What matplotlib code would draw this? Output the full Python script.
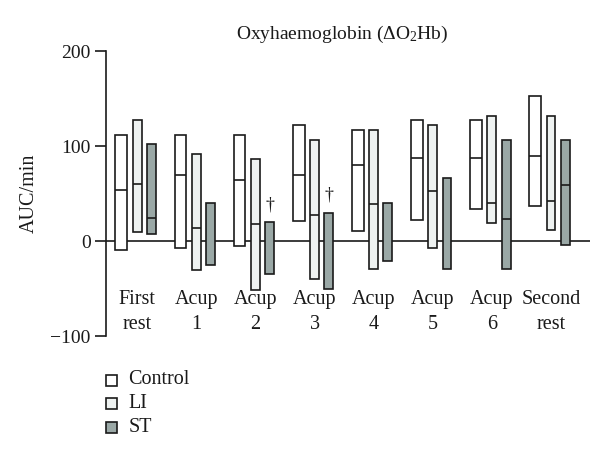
import matplotlib
matplotlib.use("Agg")
import matplotlib.pyplot as plt
from matplotlib.patches import Rectangle

plt.rcParams['font.family'] = ['Liberation Serif', 'DejaVu Serif']
plt.rcParams['mathtext.fontset'] = 'custom'
plt.rcParams['mathtext.rm'] = 'Liberation Serif'
plt.rcParams['mathtext.it'] = 'Liberation Serif:italic'

categories = ["First\nrest", "Acup\n1", "Acup\n2", "Acup\n3", "Acup\n4", "Acup\n5", "Acup\n6", "Second\nrest"]
series = ["Control", "LI", "ST"]

control_low = [-9, -7, -5, 21, 11, 22, 34, 37]
control_mid = [54, 70, 64, 70, 80, 87, 87, 90]
control_high = [112, 112, 112, 122, 117, 127, 127, 153]

li_low = [10, -30, -52, -40, -29, -7, 19, 12]
li_mid = [60, 14, 18, 27, 39, 53, 40, 42]
li_high = [127, 92, 86, 106, 117, 122, 132, 132]

st_low = [7, -25, -35, -50, -21, -29, -29, -4]
st_mid = [24, None, None, None, None, None, 23, 59]
st_high = [102, 40, 20, 30, 40, 66, 106, 106]

significant = [False, False, True, True, False, False, False, False]

colors = {"Control": "#ffffff", "LI": "#eef2f1", "ST": "#9aa8a6"}
offsets = {"Control": -0.27, "LI": 0.0, "ST": 0.24}
widths = {"Control": 0.2, "LI": 0.15, "ST": 0.15}
data = {
    "Control": (control_low, control_mid, control_high),
    "LI": (li_low, li_mid, li_high),
    "ST": (st_low, st_mid, st_high),
}

fig = plt.figure(figsize=(6.0, 4.62), dpi=100)
ax = fig.add_axes([0.1767, 0.2727, 0.8066, 0.6169])
ax.set_xlim(-0.53, 7.66)
ax.set_ylim(-100, 200)

ax.axhline(0, color="#1a1a1a", lw=1.2, zorder=1)

edge = "#1a1a1a"
for s in series:
    lo, mid, hi = data[s]
    for i in range(len(categories)):
        x0 = i + offsets[s] - widths[s] / 2
        ax.add_patch(Rectangle((x0, lo[i]), widths[s], hi[i] - lo[i],
                               facecolor=colors[s], edgecolor=edge, lw=1.2, zorder=2))
        if mid[i] is not None:
            ax.plot([x0, x0 + widths[s]], [mid[i], mid[i]], color=edge, lw=1.2, zorder=3,
                    solid_capstyle='butt')

for i, sig in enumerate(significant):
    if sig:
        ax.text(i + offsets["ST"], st_high[i] + 9, "\u2020", ha="center", va="bottom",
                fontsize=13, color=edge)

for i, c in enumerate(categories):
    ax.text(i, -75, c, ha="center", va="center", fontsize=14.5, linespacing=1.45, color="#1a1a1a")

for sp in ["top", "right", "bottom"]:
    ax.spines[sp].set_visible(False)
ax.spines["left"].set_linewidth(1.2)
ax.spines["left"].set_color(edge)
ax.set_xticks([])
ax.set_yticks([-100, 0, 100, 200])
ax.set_yticklabels(["\u2212100", "0", "100", "200"])
ax.tick_params(axis="y", direction="out", length=8, width=1.2, labelsize=14, pad=3, colors="#1a1a1a")
ax.set_ylabel("AUC/min", fontsize=14.5, labelpad=8, color="#1a1a1a")

fig.text(0.57, 0.926, r"Oxyhaemoglobin ($\Delta$O$_2$Hb)", ha="center", va="center",
         fontsize=14, color="#1a1a1a")

# legend
leg_x = 0.176
leg_ys = [1 - 380 / 462, 1 - 403 / 462, 1 - 427 / 462]
sq_w = 11 / 600
sq_h = 11 / 462
for s, yy in zip(series, leg_ys):
    fig.patches.append(Rectangle((leg_x, yy - sq_h / 2), sq_w, sq_h, transform=fig.transFigure,
                                 facecolor=colors[s], edgecolor=edge, lw=1.2))
    fig.text(leg_x + 0.038, yy, s, ha="left", va="center", fontsize=14.5, color="#1a1a1a")

fig.savefig("out.png", dpi=100)
